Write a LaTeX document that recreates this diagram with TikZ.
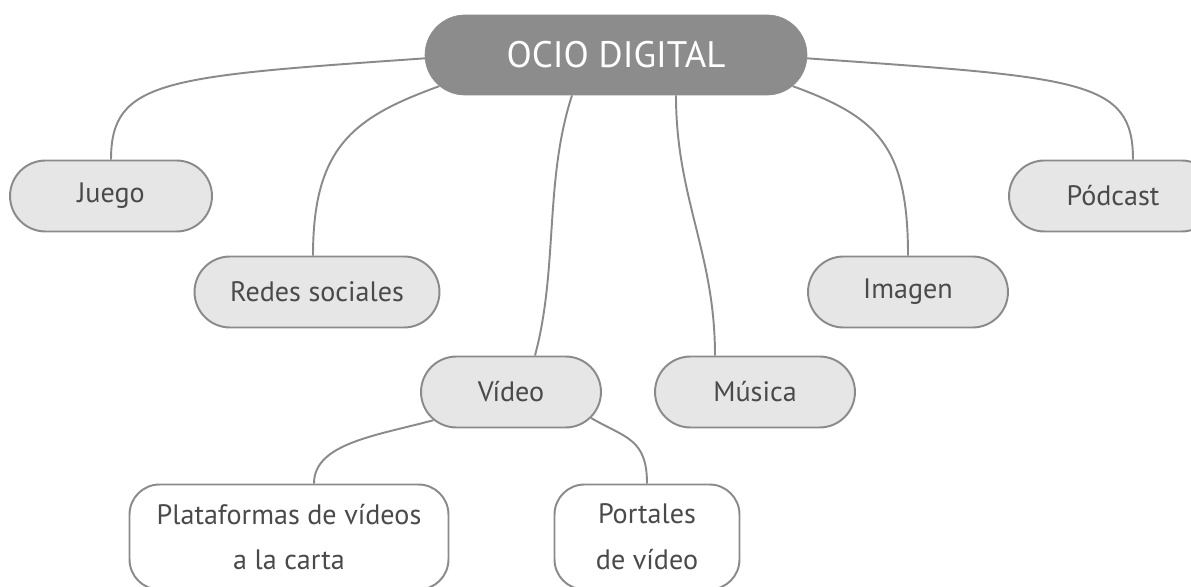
\documentclass[tikz,border=0pt]{standalone}
\usepackage{fontspec}
\setmainfont{PT Sans}
\usepackage{tikz}
\usetikzlibrary{shapes}
\definecolor{mapRoot}{HTML}{8C8C8C}
\definecolor{mapBody}{HTML}{E6E6E6}
\definecolor{mapBorder}{HTML}{8A8A8A}
\definecolor{mapText}{HTML}{4A4A4A}
\tikzstyle{root} = [rounded rectangle, fill=mapRoot, draw=mapRoot, text=white,
        font={\fontsize{21}{25}\selectfont}, minimum width=7.64cm, minimum height=1.6cm, inner sep=0pt]
\tikzstyle{topic} = [rounded rectangle, fill=mapBody, draw=mapBorder, line width=1.1pt, text=mapText,
        font={\fontsize{16}{19}\selectfont}, minimum height=1.42cm, inner sep=0pt]
\tikzstyle{leaf} = [rectangle, rounded corners=0.6cm, fill=white, draw=mapBorder, line width=1.1pt,
        text=mapText, align=center, font={\fontsize{16}{26}\selectfont}, minimum height=2.1cm, inner sep=0pt]
\tikzstyle{link} = [draw=mapBorder, line width=1.1pt]

\begin{document}
\begin{tikzpicture}[x=0.02cm, y=0.02cm]
    \useasboundingbox (0,0) rectangle (1191,-587);

    \node [root] (ocio) at (616,-55) {OCIO DIGITAL};
    \node [topic, minimum width=4.04cm] (juego) at (111,-196) {Juego};
    \node [topic, minimum width=4.9cm] (redes) at (317,-292) {Redes sociales};
    \node [topic, minimum width=3.6cm] (video) at (511,-392) {Vídeo};
    \node [topic, minimum width=4cm] (musica) at (755,-392) {Música};
    \node [topic, minimum width=4cm] (imagen) at (908,-292) {Imagen};
    \node [topic, minimum width=4.16cm] (podcast) at (1113,-196) {Pódcast};
    \node [leaf, minimum width=6.38cm] (plataformas) at (289,-537) {Plataformas de vídeos\\a la carta};
    \node [leaf, minimum width=3.7cm] (portales) at (647,-537) {Portales\\de vídeo};

    \draw [link] (ocio.181) to [out=184, in=90, out distance=5.2cm, in distance=1.6cm] (juego);
    \draw [link] (ocio.190) to [out=200, in=90, out distance=1.8cm, in distance=2.2cm] ([xshift=-0.08cm]redes.north);
    \draw [link] ([xshift=-0.88cm]ocio.south) to [out=-108, in=75, out distance=1.8cm, in distance=1.8cm] ([xshift=0.48cm]video.north);
    \draw [link] ([xshift=1.2cm]ocio.south) to [out=-90, in=90] ([xshift=-0.8cm]musica.north);
    \draw [link] (ocio.-10) to [out=-20, in=90, out distance=1.8cm, in distance=2.2cm] (imagen);
    \draw [link] (ocio.-1) to [out=-4, in=90, out distance=5.5cm, in distance=1.6cm] ([xshift=0.4cm]podcast.north);
    \draw [link] (video.200) to [out=195, in=90, out distance=1.2cm, in distance=0.8cm] ([xshift=0.5cm]plataformas.north);
    \draw [link] (video.-18) to [out=-30, in=90, out distance=0.8cm, in distance=0.9cm] (portales);
\end{tikzpicture}
\end{document}
